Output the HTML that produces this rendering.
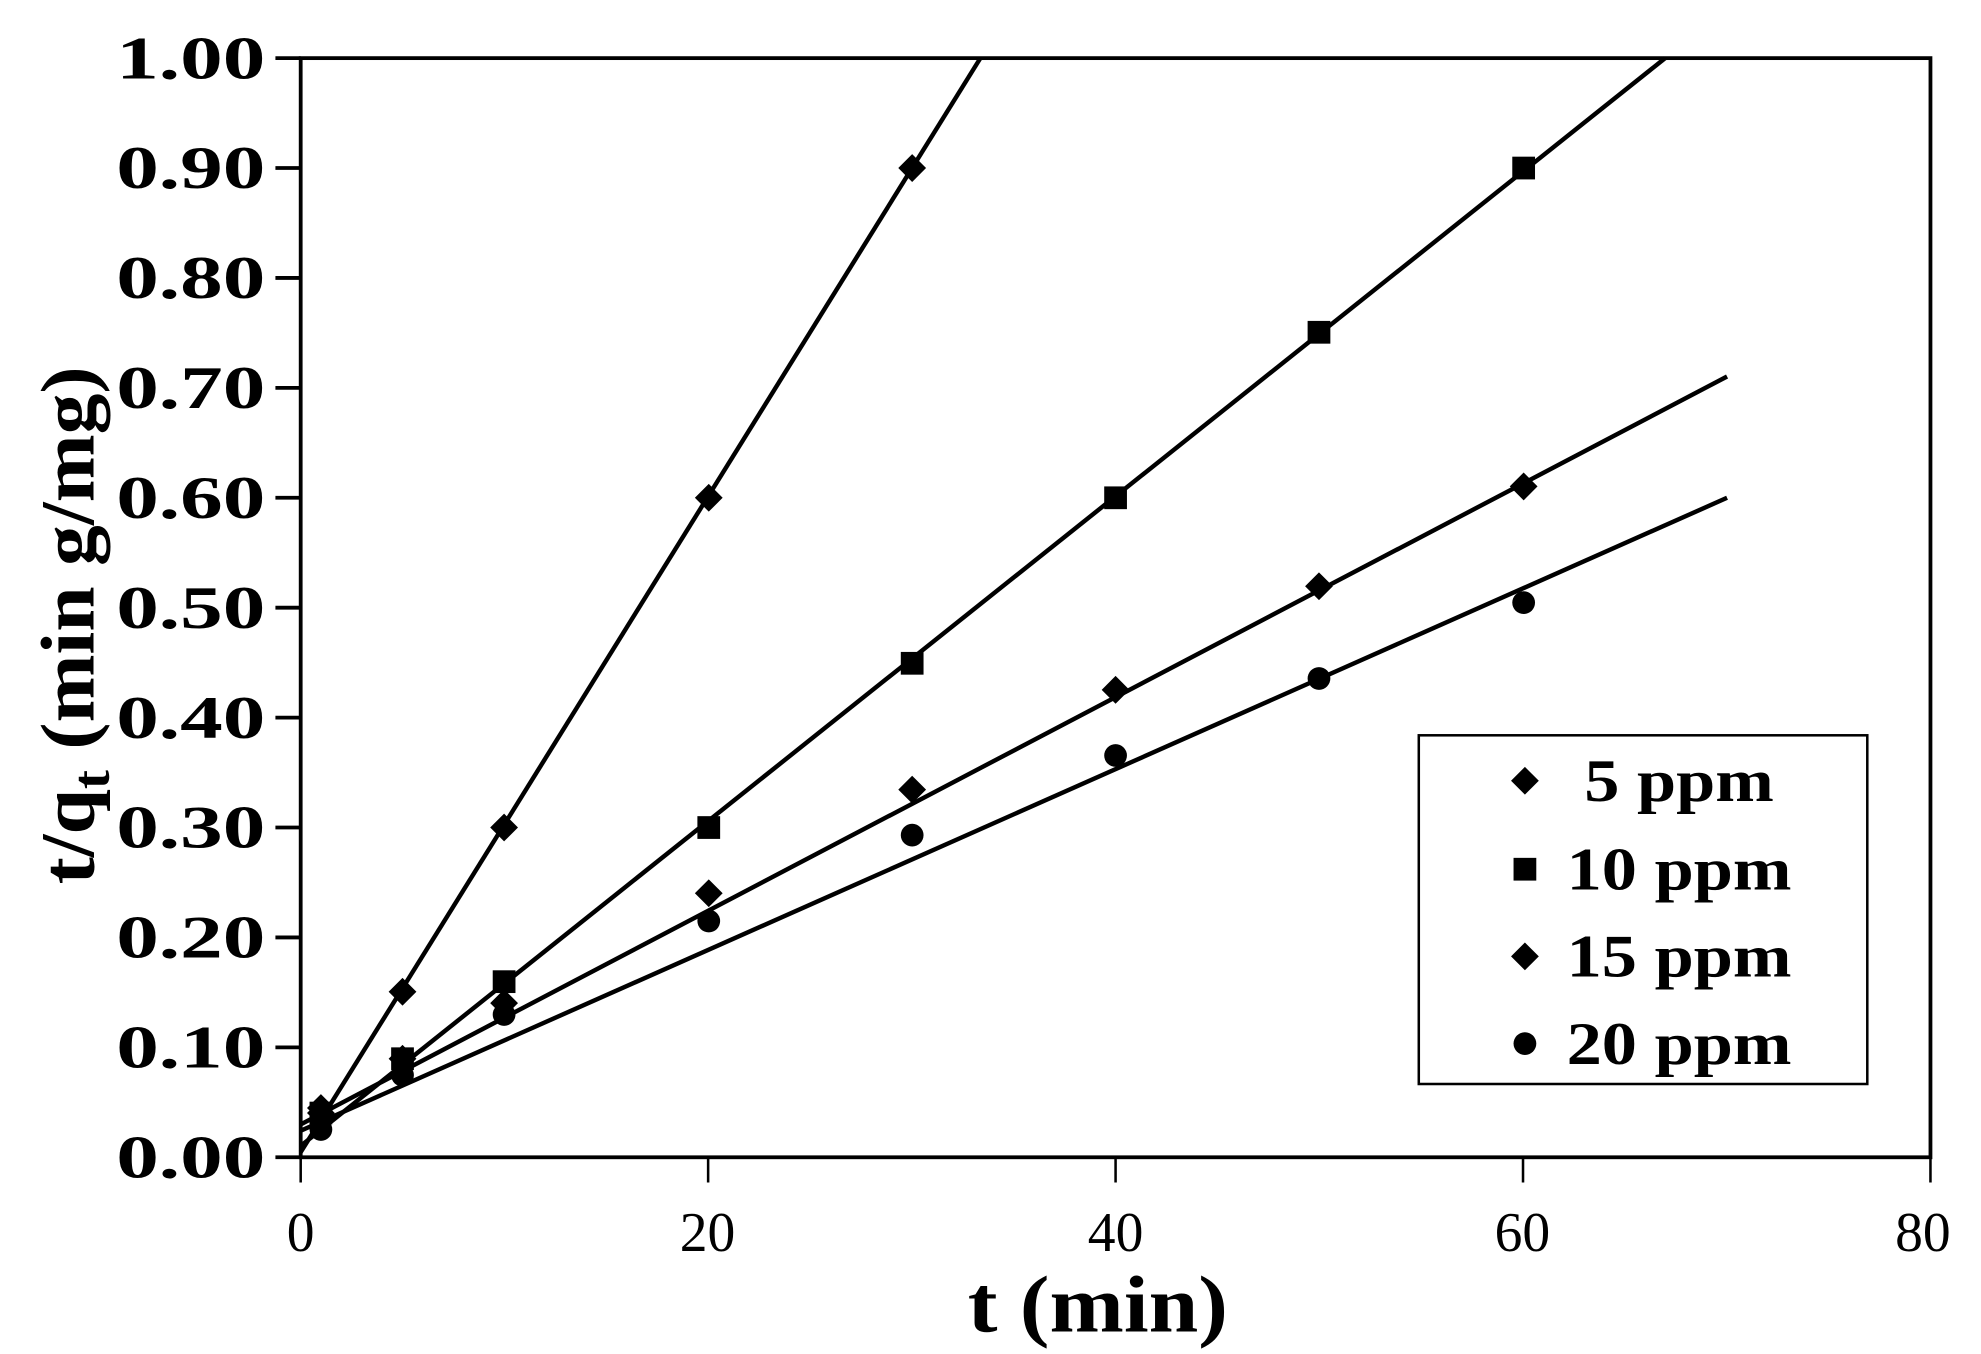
<!DOCTYPE html>
<html><head><style>body{margin:0;background:#fff}svg{display:block}</style></head><body>
<svg width="1981" height="1354" viewBox="0 0 1568 1071.7" xmlns="http://www.w3.org/2000/svg" font-family="Liberation Serif, serif" font-weight="bold">
<defs>
<path id="d" d="M0,-11 L11,0 L0,11 L-11,0Z" fill="#000"/>
<rect id="s" x="-9" y="-9" width="18" height="18" fill="#000"/>
<circle id="c" r="9" fill="#000"/>
</defs>
<g stroke="#000" stroke-width="3" fill="none">
<rect x="238" y="46" width="1290" height="870"/>
<path d="M218,46H238M218,133H238M218,220H238M218,307H238M218,394H238M218,481H238M218,568H238M218,655H238M218,742H238M218,829H238M218,916H238"/>
<path d="M238,916V936M560.5,916V936M883,916V936M1205.5,916V936M1528,916V936" stroke-width="2"/>
</g>
<g font-size="48" text-anchor="end">
<text x="210" y="62" textLength="118" lengthAdjust="spacingAndGlyphs">1.00</text>
<text x="210" y="149" textLength="118" lengthAdjust="spacingAndGlyphs">0.90</text>
<text x="210" y="236" textLength="118" lengthAdjust="spacingAndGlyphs">0.80</text>
<text x="210" y="323" textLength="118" lengthAdjust="spacingAndGlyphs">0.70</text>
<text x="210" y="410" textLength="118" lengthAdjust="spacingAndGlyphs">0.60</text>
<text x="210" y="497" textLength="118" lengthAdjust="spacingAndGlyphs">0.50</text>
<text x="210" y="584" textLength="118" lengthAdjust="spacingAndGlyphs">0.40</text>
<text x="210" y="671" textLength="118" lengthAdjust="spacingAndGlyphs">0.30</text>
<text x="210" y="758" textLength="118" lengthAdjust="spacingAndGlyphs">0.20</text>
<text x="210" y="845" textLength="118" lengthAdjust="spacingAndGlyphs">0.10</text>
<text x="210" y="932" textLength="118" lengthAdjust="spacingAndGlyphs">0.00</text>
</g>
<g font-size="44" text-anchor="middle" font-weight="normal">
<text x="238" y="990">0</text><text x="560" y="990">20</text><text x="883" y="990">40</text><text x="1205" y="990">60</text><text x="1522" y="990">80</text>
</g>
<text x="766" y="1054" font-size="64" textLength="206" lengthAdjust="spacingAndGlyphs">t (min)</text>
<text transform="translate(74,700) rotate(-90)" font-size="60" textLength="410" lengthAdjust="spacingAndGlyphs">t/q<tspan font-size="42" dy="12">t</tspan><tspan dy="-12"> (min g/mg)</tspan></text>
<g stroke="#000" stroke-width="3.5">
<line x1="238" y1="912" x2="776" y2="46"/>
<line x1="238" y1="907" x2="1318" y2="46"/>
<line x1="238" y1="890" x2="1367" y2="298"/>
<line x1="238" y1="895" x2="1367" y2="394"/>
</g>
<g>
<use href="#d" x="254" y="877"/><use href="#d" x="318.6" y="785"/><use href="#d" x="399" y="655"/><use href="#d" x="561" y="394"/><use href="#d" x="722" y="133"/>
<use href="#s" x="254" y="881"/><use href="#s" x="318.6" y="838"/><use href="#s" x="399" y="777"/><use href="#s" x="561" y="655"/><use href="#s" x="722" y="525"/><use href="#s" x="883" y="394"/><use href="#s" x="1044" y="263"/><use href="#s" x="1206" y="133"/>
<use href="#d" x="254" y="881"/><use href="#d" x="318.6" y="838"/><use href="#d" x="399" y="794"/><use href="#d" x="561" y="707"/><use href="#d" x="722" y="625"/><use href="#d" x="883" y="546"/><use href="#d" x="1044" y="464"/><use href="#d" x="1206" y="385"/>
<use href="#c" x="254" y="894"/><use href="#c" x="318.6" y="851"/><use href="#c" x="399" y="803"/><use href="#c" x="561" y="729"/><use href="#c" x="722" y="661"/><use href="#c" x="883" y="598"/><use href="#c" x="1044" y="537"/><use href="#c" x="1206" y="477"/>
</g>
<rect x="1123" y="582" width="355" height="276" fill="#fff" stroke="#000" stroke-width="2"/>
<use href="#d" x="1207" y="618"/><use href="#s" x="1207" y="688"/><use href="#d" x="1207" y="757"/><use href="#c" x="1207" y="826"/>
<g font-size="48">
<text x="1254" y="634" textLength="150" lengthAdjust="spacingAndGlyphs">5 ppm</text>
<text x="1240" y="704" textLength="178" lengthAdjust="spacingAndGlyphs">10 ppm</text>
<text x="1240" y="773" textLength="178" lengthAdjust="spacingAndGlyphs">15 ppm</text>
<text x="1240" y="842" textLength="178" lengthAdjust="spacingAndGlyphs">20 ppm</text>
</g>
</svg>
</body></html>
